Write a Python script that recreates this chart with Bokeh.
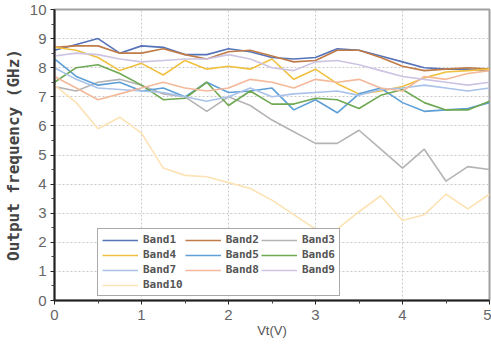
from bokeh.plotting import figure
from bokeh.models import Legend, LegendItem, Range1d, FixedTicker
from bokeh.embed import file_html
from bokeh.resources import INLINE

vt = [0, 0.25, 0.5, 0.75, 1, 1.25, 1.5, 1.75, 2, 2.25, 2.5, 2.75, 3, 3.25, 3.5, 3.75, 4, 4.25, 4.5, 4.75, 5]

band1 = [8.6, 8.8, 9.0, 8.5, 8.75, 8.7, 8.45, 8.45, 8.65, 8.55, 8.35, 8.3, 8.35, 8.65, 8.6, 8.4, 8.2, 8.0, 7.95, 7.95, 7.9]
band2 = [8.7, 8.75, 8.75, 8.5, 8.5, 8.65, 8.45, 8.3, 8.55, 8.6, 8.4, 8.2, 8.25, 8.6, 8.6, 8.35, 8.05, 7.9, 7.95, 8.0, 7.95]
band3 = [7.35, 7.2, 7.5, 7.6, 7.4, 7.1, 7.0, 6.5, 7.0, 6.7, 6.2, 5.8, 5.4, 5.4, 5.85, 5.2, 4.55, 5.2, 4.1, 4.6, 4.5]
band4 = [8.7, 8.6, 8.35, 7.9, 8.15, 7.75, 8.25, 7.95, 8.05, 7.95, 8.3, 7.6, 7.95, 7.45, 7.1, 7.2, 7.35, 7.65, 7.85, 7.9, 7.95]
band5 = [8.3, 7.7, 7.4, 7.5, 7.2, 7.3, 7.0, 7.5, 7.15, 7.2, 7.3, 6.55, 6.9, 6.45, 7.1, 7.3, 6.8, 6.5, 6.55, 6.6, 6.8]
band6 = [7.5, 8.0, 8.1, 7.8, 7.4, 6.9, 6.95, 7.5, 6.7, 7.2, 6.75, 6.75, 6.95, 6.9, 6.6, 7.05, 7.25, 6.8, 6.55, 6.55, 6.85]
band7 = [8.0, 7.6, 7.3, 7.25, 7.2, 7.15, 7.0, 6.85, 7.0, 7.3, 7.0, 7.1, 7.15, 7.2, 7.05, 7.25, 7.3, 7.4, 7.3, 7.2, 7.3]
band8 = [7.7, 7.3, 6.9, 7.1, 7.3, 7.5, 7.3, 7.2, 7.3, 7.6, 7.5, 7.3, 7.6, 7.5, 7.6, 7.3, 7.2, 7.7, 7.6, 7.8, 7.9]
band9 = [8.4, 8.5, 8.45, 8.3, 8.2, 8.25, 8.3, 8.3, 8.45, 8.3, 8.0, 7.9, 8.2, 8.25, 8.1, 7.9, 7.7, 7.6, 7.5, 7.4, 7.5]
band10 = [7.4, 6.8, 5.9, 6.3, 5.75, 4.55, 4.3, 4.25, 4.05, 3.85, 3.45, 2.95, 2.45, 2.45, 3.05, 3.6, 2.75, 2.95, 3.65, 3.15, 3.65]

names = ["Band1", "Band2", "Band3", "Band4", "Band5", "Band6", "Band7", "Band8", "Band9", "Band10"]
series = [band1, band2, band3, band4, band5, band6, band7, band8, band9, band10]
colors = ["#5573b8", "#c07c48", "#b4b4b4", "#f0c040", "#5e9fd6", "#6fa852",
          "#a9c2ea", "#f3b99a", "#cdc3e2", "#fde2b4"]

p = figure(width=491, height=344, output_backend="svg", toolbar_location=None,
           x_range=Range1d(0, 5), y_range=Range1d(0, 10),
           min_border_left=10, min_border_right=2, min_border_top=9, min_border_bottom=44)

p.outline_line_color = "#a0a0a0"
p.outline_line_width = 2
p.background_fill_color = "white"

renderers = []
for n, s, c in zip(names, series, colors):
    r = p.line(vt, s, line_color=c, line_width=1.6)
    renderers.append(r)

p.xaxis.ticker = FixedTicker(ticks=[0, 1, 2, 3, 4, 5], minor_ticks=[0.5, 1.5, 2.5, 3.5, 4.5])
p.yaxis.ticker = FixedTicker(ticks=list(range(0, 11)), minor_ticks=[i + 0.5 for i in range(10)])

for ax in (p.xaxis, p.yaxis):
    ax.axis_line_color = "#222222"
    ax.axis_line_width = 2
    ax.major_tick_line_color = "#222222"
    ax.minor_tick_line_color = "#444444"
    ax.major_label_text_color = "#666666"
    ax.major_label_text_font = "Liberation Sans"
    ax.major_label_text_font_size = "15px"
    ax.axis_label_text_font_style = "bold"

p.xaxis.major_tick_in = 0
p.xaxis.major_tick_out = 4
p.yaxis.major_tick_in = 0
p.yaxis.major_tick_out = 4
p.xaxis.minor_tick_out = 3
p.yaxis.minor_tick_out = 3
p.yaxis.major_label_standoff = 4

p.xaxis.axis_label = "Vt(V)"
p.xaxis.axis_label_text_font = "Liberation Sans"
p.xaxis.axis_label_text_font_style = "normal"
p.xaxis.axis_label_text_font_size = "13px"
p.xaxis.axis_label_text_color = "#555555"
p.xaxis.axis_label_standoff = 0

p.yaxis.axis_label = "Output frequency (GHz)"
p.yaxis.axis_label_text_font = "DejaVu Sans Mono"
p.yaxis.axis_label_text_font_size = "16px"
p.yaxis.axis_label_text_color = "#444444"
p.yaxis.axis_label_standoff = 4

p.xgrid.grid_line_color = "#c8c8c8"
p.xgrid.grid_line_dash = "2 2"
p.ygrid.grid_line_color = "#c8c8c8"
p.ygrid.grid_line_dash = "2 2"

items = [LegendItem(label=n, renderers=[r]) for n, r in zip(names, renderers)]
legend = Legend(items=items, location=(43, 4), orientation="horizontal", ncols=3,
                border_line_color="#555555", border_line_width=1.5,
                background_fill_alpha=1.0, label_text_font="DejaVu Sans Mono",
                label_text_font_style="bold", label_text_font_size="11px",
                label_text_color="#555555", label_text_line_height=1.0,
                glyph_width=36, glyph_height=10, label_height=10,
                spacing=2, padding=4, margin=0, label_standoff=5)
p.add_layout(legend, "center")

open("out.html", "w").write(file_html(p, INLINE))
